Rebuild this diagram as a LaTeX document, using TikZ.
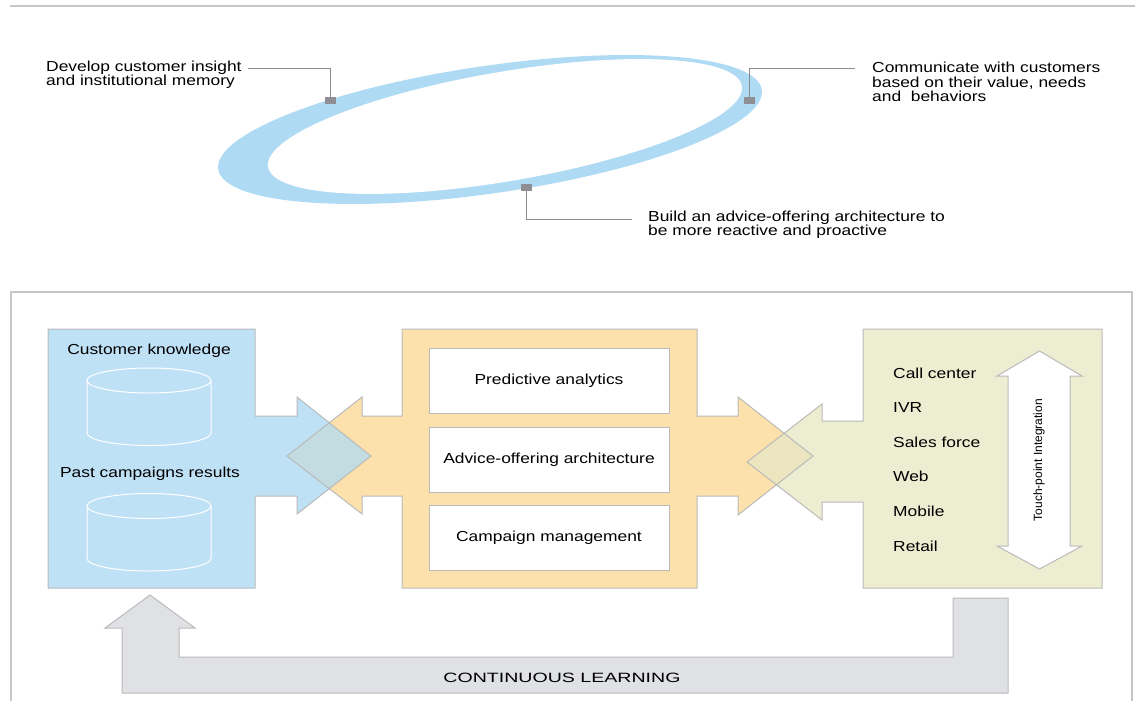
\documentclass[tikz,border=0pt]{standalone}
\usepackage{fontspec}
\setmainfont{Liberation Sans}[FakeStretch=1.2]
\newfontfamily\uprightsans{Liberation Sans}
\newfontfamily\loopsans{Liberation Sans}[FakeStretch=1.45]
\usetikzlibrary{positioning}
\definecolor{ringBlue}{RGB}{175,218,243}
\definecolor{knowBlue}{RGB}{191,225,246}
\definecolor{engOrange}{RGB}{253,225,172}
\definecolor{touchGreen}{RGB}{237,237,210}
\definecolor{mixBO}{RGB}{194,220,226}
\definecolor{mixOG}{RGB}{236,230,192}
\definecolor{loopGray}{RGB}{224,225,228}
\definecolor{edgeGray}{RGB}{186,186,186}
\definecolor{leadGray}{RGB}{140,140,140}
\definecolor{markGray}{RGB}{142,142,148}
\definecolor{frameGray}{RGB}{198,198,198}
% block outlines (box + arrows as one shape)
\newcommand\knowpath{(48,329) -- (255,329) -- (255,416) -- (297,416) -- (297,397) -- (371,456)
  -- (297,514) -- (297,496) -- (255,496) -- (255,588) -- (48,588) -- cycle}
\newcommand\enginepath{(402,329) -- (697,329) -- (697,416) -- (738,416) -- (738,397) -- (813,456)
  -- (738,515) -- (738,496) -- (697,496) -- (697,588) -- (402,588) -- (402,496) -- (362,496)
  -- (362,514) -- (287,456) -- (362,397) -- (362,416) -- (402,416) -- cycle}
\newcommand\touchpath{(863,329) -- (1102,329) -- (1102,588) -- (863,588) -- (863,502) -- (822,502)
  -- (822,520) -- (747,462) -- (822,404) -- (822,421) -- (863,421) -- cycle}

\begin{document}
\begin{tikzpicture}[x=1pt,y=-1pt,font=\fontsize{14.5}{14.3}\selectfont,
  lbl/.style={align=left,anchor=west,inner sep=0pt},
  marker/.style={fill=markGray,minimum width=11pt,minimum height=7pt,inner sep=0pt},
  leader/.style={draw=leadGray,line width=0.9pt},
  outline/.style={draw=edgeGray,line width=1pt},
  task/.style={draw=edgeGray,fill=white,line width=1pt,minimum width=240pt,minimum height=65pt},
  dbline/.style={draw=white,line width=1pt}]
\useasboundingbox (0,0) rectangle (1135,701);
\draw[frameGray,line width=1.6pt] (10,6) -- (1135,6);
% --- ring ---
\fill[ringBlue,rotate around={8.3:(490,129.5)}] (490,129.5) ellipse [x radius=274.7pt,y radius=63.7pt];
\fill[white,rotate around={9.7:(505,126.5)}] (505,126.5) ellipse [x radius=240.3pt,y radius=54.7pt];
\node[marker] (mkL) at (330,100.5) {};
\node[marker] (mkR) at (749,100.5) {};
\node[marker] (mkB) at (526,187.5) {};
\coordinate (ldL) at (248,68);
\coordinate (ldR) at (855,68);
\coordinate (ldB) at (632,219);
\draw[leader] (mkL.north) |- (ldL);
\draw[leader] (mkR.north) |- (ldR);
\draw[leader] (mkB.south) |- (ldB);
\node[lbl] (goalL) at (46,75) {Develop customer insight\\and institutional memory};
\node[lbl] (goalR) at (872,82) {Communicate with customers\\based on their value, needs\\and\ \ behaviors};
\node[lbl] (goalB) at (648,225) {Build an advice-offering architecture to\\be more reactive and proactive};
% --- frame ---
\draw[frameGray,line width=1.2pt] (11,705) -- (11,292) -- (1132,292) -- (1132,705);
% --- blocks ---
\fill[knowBlue] \knowpath;
\fill[engOrange] \enginepath;
\fill[touchGreen] \touchpath;
\begin{scope}
\clip \knowpath;
\fill[mixBO] \enginepath;
\end{scope}
\begin{scope}
\clip \enginepath;
\fill[mixOG] \touchpath;
\end{scope}
\draw[outline] \knowpath;
\draw[outline] \enginepath;
\draw[outline] \touchpath;
% --- data stores ---
\node (ckn) at (149,351) {Customer knowledge};
\node (pcr) at (150,474) {Past campaigns results};
\foreach \cy in {380.5,506} {
  \draw[dbline] (149,\cy) ellipse [x radius=62pt,y radius=12.5pt];
  \draw[dbline] (87,\cy) -- (87,\cy+52.5) arc[start angle=180,end angle=360,x radius=62pt,y radius=12.5pt] -- (211,\cy);
}
% --- engine ---
\node[task] (pred) at (549,380.5) {Predictive analytics};
\node[task,below=13pt of pred] (arch) {Advice-offering architecture};
\node[task,below=12pt of arch] (camp) {Campaign management};
% --- touch points ---
\foreach \ch [count=\i] in {Call center,IVR,Sales force,Web,Mobile,Retail}
  \node[lbl] (ch\i) at (893,{373+34.6*(\i-1)}) {\ch};
\draw[outline,fill=white] (1039.5,351) -- (1082,376) -- (1070,376) -- (1070,546) -- (1082,546)
  -- (1039.5,569) -- (997,546) -- (1008,546) -- (1008,376) -- (997,376) -- cycle;
\node[rotate=90,font=\uprightsans\fontsize{12}{12}\selectfont] (tpi) at (1039,460) {Touch-point Integration};
% --- learning loop ---
\draw[outline,fill=loopGray] (953,598) -- (1008,598) -- (1008,693) -- (122,693) -- (122,628)
  -- (105,628) -- (150,595) -- (195,628) -- (179,628) -- (179,657) -- (953,657) -- cycle;
\node[font=\loopsans\fontsize{13.5}{13.5}\selectfont] (loop) at (562,678) {CONTINUOUS LEARNING};
\end{tikzpicture}
\end{document}
